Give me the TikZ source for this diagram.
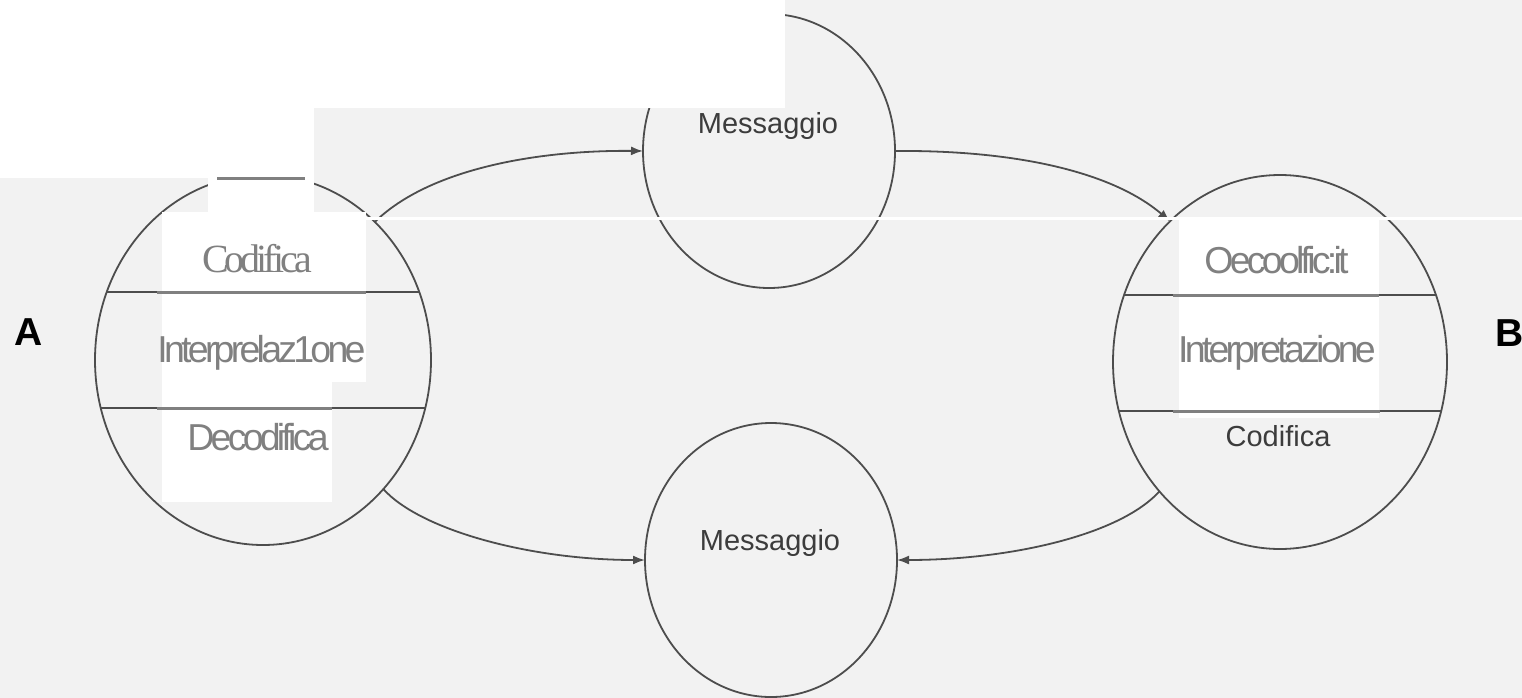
\documentclass[tikz,border=0pt]{standalone}
\usepackage{fontspec}
\setmainfont{Liberation Sans}
\newfontfamily\ovsans[LetterSpace=-10]{Liberation Sans}
\newfontfamily\ovserif[LetterSpace=-10]{Liberation Serif}
\usetikzlibrary{shapes.geometric,arrows.meta}
\definecolor{bg}{HTML}{F2F2F2}
\definecolor{ink}{HTML}{4D4D4D}
\definecolor{scantext}{HTML}{3C3C3C}
\definecolor{ovgray}{HTML}{808080}
\begin{document}
\begin{tikzpicture}[x=1pt,y=-1pt,
  bubble/.style={ellipse, draw=ink, line width=1.8pt, inner sep=0pt, outer sep=0pt},
  flow/.style={draw=ink, line width=1.8pt, -{Latex[length=12pt,width=9pt]}},
  divline/.style={draw=ink, line width=1.8pt},
  scanlabel/.style={text=scantext, font=\fontsize{29}{34}\selectfont, anchor=base, inner sep=0pt},
  sidelabel/.style={text=black, font=\bfseries\fontsize{39}{44}\selectfont, inner sep=0pt},
  patch/.style={fill=white, draw=none},
  ovline/.style={draw=ovgray, line width=3pt},
  ovlabel/.style={text=ovgray, font=\ovsans\fontsize{37.5}{42}\selectfont, anchor=base, inner sep=0pt},
  ovseriflabel/.style={text=ovgray, font=\ovserif\fontsize{40}{44}\selectfont, anchor=base, inner sep=0pt},
]
\useasboundingbox (0,0) rectangle (1522,698);
\fill[bg] (0,0) rectangle (1522,698);

% bubbles
\node[bubble, minimum width=336pt, minimum height=370pt] (A) at (263,360) {};
\node[bubble, minimum width=334pt, minimum height=374pt] (B) at (1280,362) {};
\node[bubble, minimum width=252pt, minimum height=274pt] (M1) at (769,151) {};
\node[bubble, minimum width=252pt, minimum height=274pt] (M2) at (771,560) {};

% division lines in A and B
\draw[divline] (107,292) -- (419,292);
\draw[divline] (101,408) -- (425,408);
\draw[divline] (1124,295) -- (1436,295);
\draw[divline] (1119,411) -- (1441,411);

% connectors
\draw[flow] (A.51) .. controls (430,168) and (540,150) .. (M1.west);
\draw[flow] (M1.east) .. controls (1010,150) and (1110,170) .. (B.128);
\draw[flow] (A.-47) .. controls (420,530) and (530,560) .. (M2.west);
\draw[flow] (B.-133) .. controls (1120,535) and (1010,560) .. (M2.east);

% scanned labels
\node[scanlabel] (m1t) at (768,134) {Messaggio};
\node[scanlabel] (m2t) at (770,550) {Messaggio};
\node[scanlabel] (bcod) at (1278,446) {Codifica};
\node[sidelabel, anchor=base] (la) at (29,345) {A};
\node[sidelabel, anchor=base west] (lb) at (1495,346) {B};

% white patches
\fill[patch] (0,0) rectangle (785,108);
\fill[patch] (0,108) rectangle (314,178);
\fill[patch] (208,178) rectangle (314,212);
\fill[patch] (162,212) rectangle (366,382);
\fill[patch] (162,382) rectangle (332,502);
\fill[patch] (1179,217) rectangle (1379,418);
\draw[white, line width=2.5pt] (366,218.5) -- (1522,218.5);

% overlay lines
\draw[ovline] (217,178) -- (305,178);
\draw[ovline] (157,292) -- (366,292);
\draw[ovline] (157,408) -- (332,408);
\draw[ovline] (1173,295) -- (1379,295);
\draw[ovline] (1173,411) -- (1380,411);

% overlay labels
\node[ovseriflabel] (acod) at (257,272) {Codifica};
\node[ovlabel] (aint) at (261.5,362) {Interprelaz1one};
\node[ovlabel] (adec) at (258,450) {Decodifica};
\node[ovlabel] (bdec) at (1276.5,273) {Oecoolfic:it};
\node[ovlabel] (bint) at (1277,362) {Interpretazione};
\end{tikzpicture}
\end{document}
